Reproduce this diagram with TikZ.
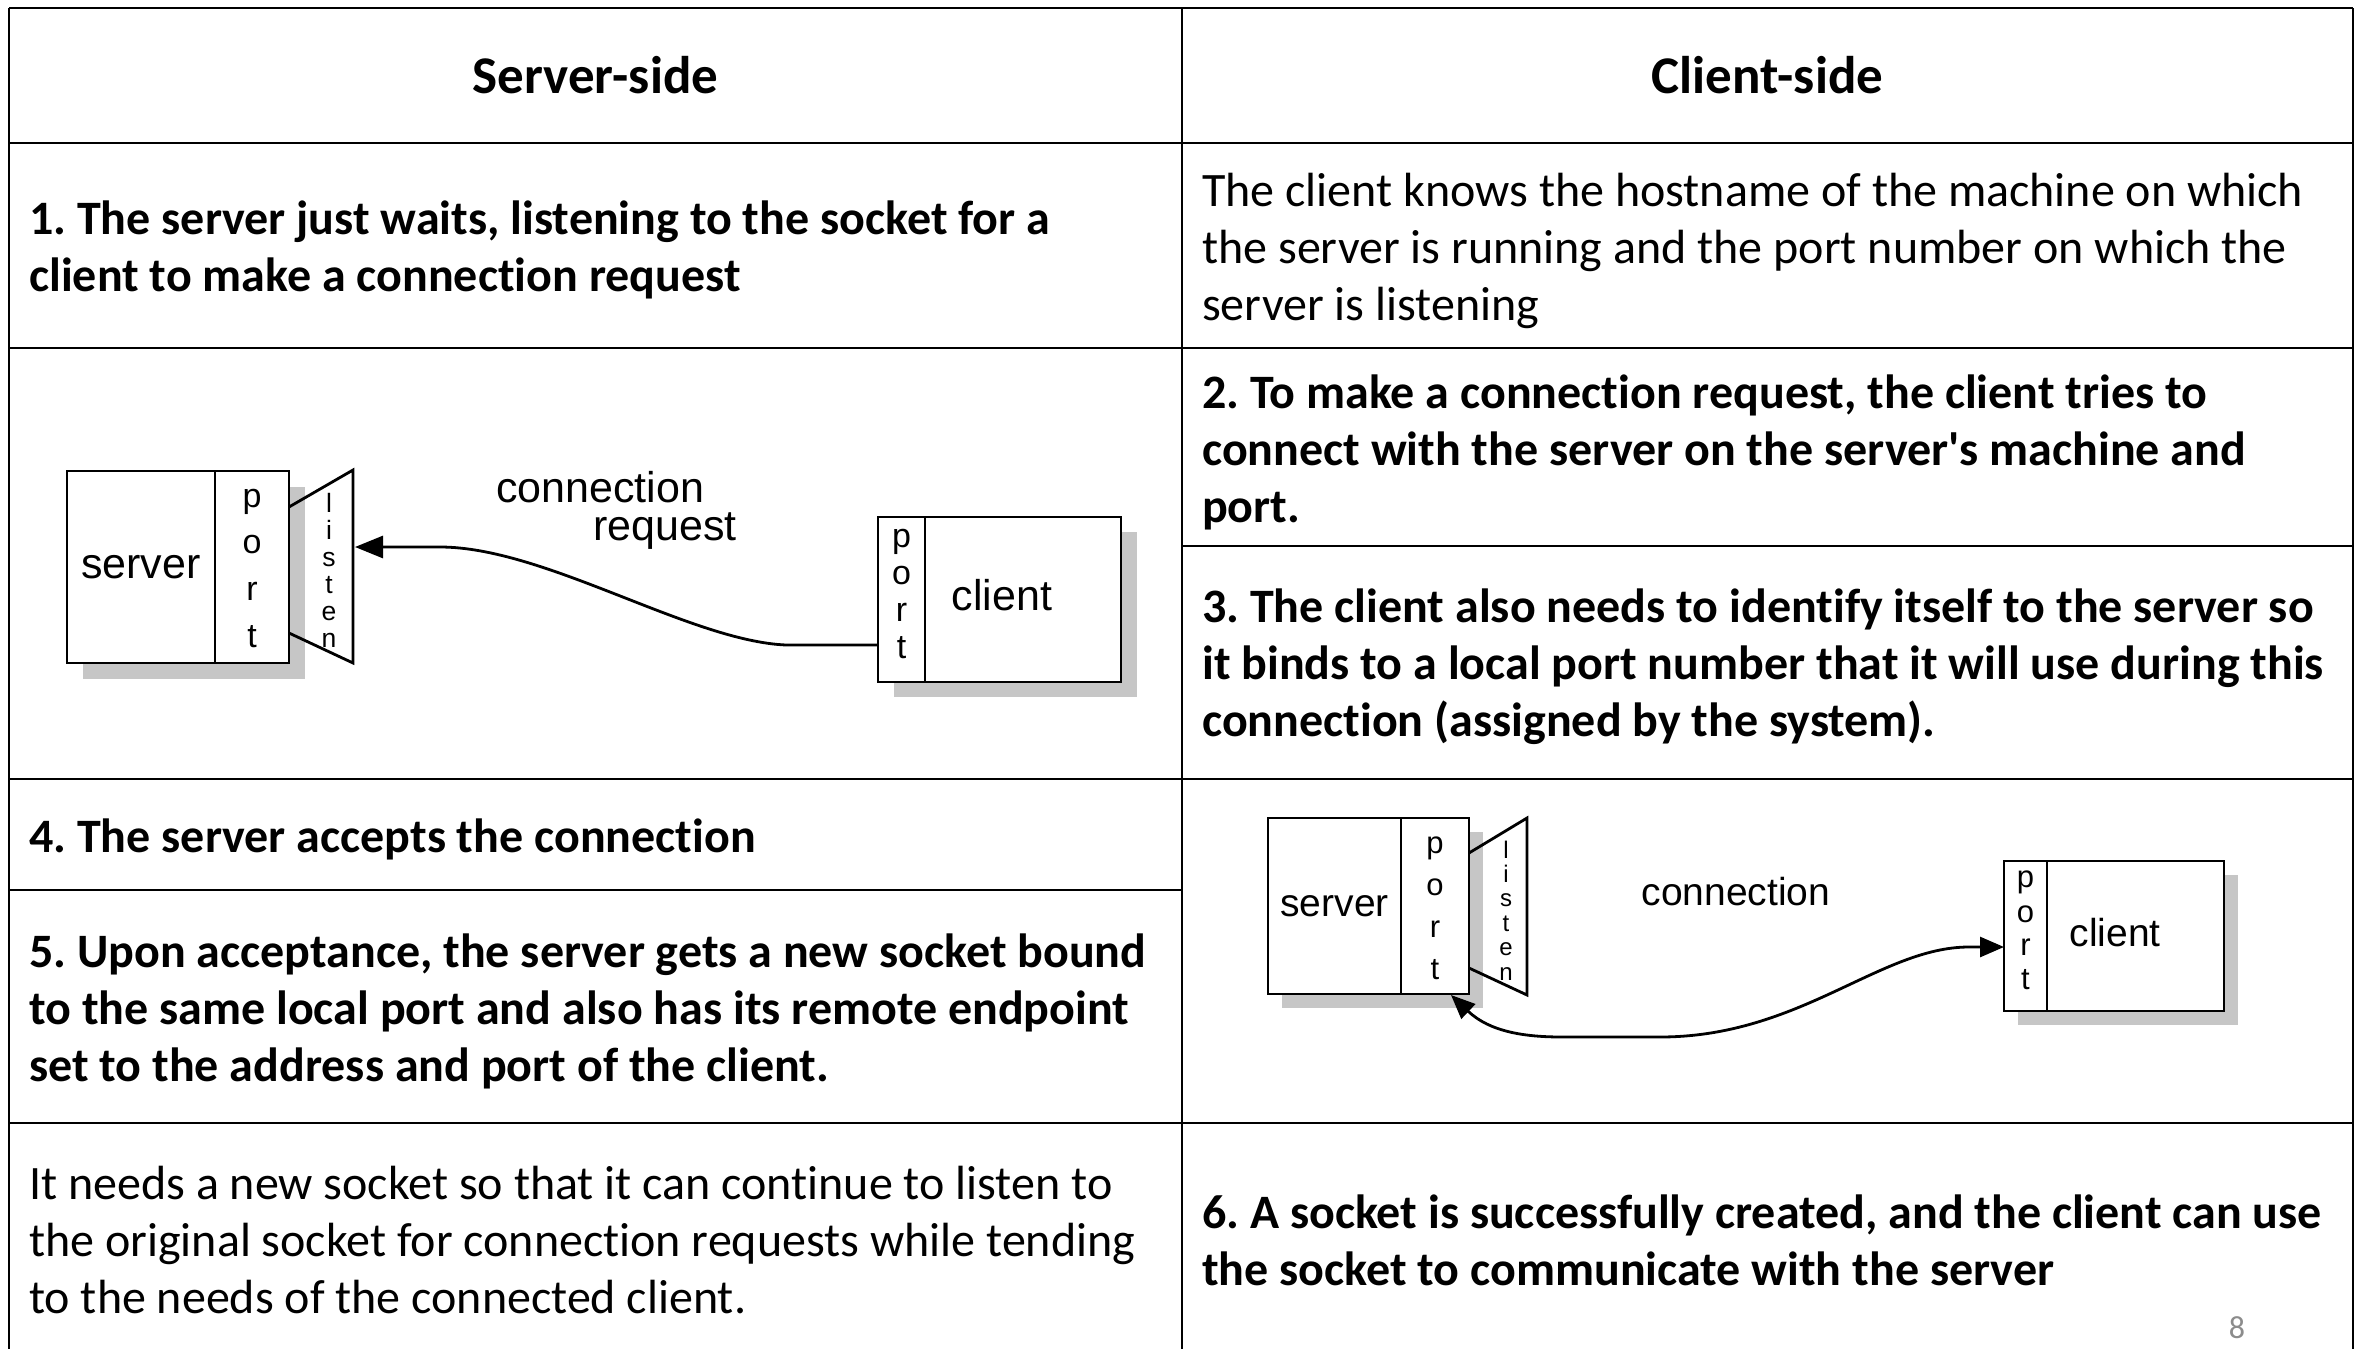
\documentclass[tikz,border=0pt]{standalone}
\usepackage{fontspec}
\setmainfont{Carlito}[Ligatures={NoCommon}]
\newfontfamily\diagfont{Liberation Sans}
\usetikzlibrary{arrows.meta}
\frenchspacing
\definecolor{shadowgray}{RGB}{198,198,198}
\definecolor{pagegray}{RGB}{140,140,140}
\tikzset{
  gridline/.style={line width=2.5pt, black},
  bodyb/.style={anchor=west, inner sep=0pt, align=left, font=\bfseries\fontsize{48}{57}\selectfont},
  bodyr/.style={anchor=west, inner sep=0pt, align=left, font=\fontsize{48}{57}\selectfont},
  headtxt/.style={inner sep=0pt, font=\bfseries\fontsize{53}{64}\selectfont},
  dline/.style={line width=2.8pt, black},
  dbox/.style={draw, line width=2.8pt, fill=white, inner sep=0pt, outer sep=0pt},
  dshadow/.style={fill=shadowgray, draw=none},
  dbigA/.style={font=\diagfont\fontsize{43}{50}\selectfont, inner sep=0pt, anchor=base},
  dsmallA/.style={font=\diagfont\fontsize{34}{34}\selectfont, inner sep=0pt, anchor=base},
  dletA/.style={font=\diagfont\fontsize{26.5}{26.5}\selectfont, inner sep=0pt, anchor=base},
  dbigB/.style={font=\diagfont\fontsize{39}{46}\selectfont, inner sep=0pt, anchor=base},
  dsmallB/.style={font=\diagfont\fontsize{31}{31}\selectfont, inner sep=0pt, anchor=base},
  dletB/.style={font=\diagfont\fontsize{24}{24}\selectfont, inner sep=0pt, anchor=base},
  conn/.style={line width=2.8pt, black},
  tipA/.tip={Triangle[width=22pt,length=28pt]},
  tipB/.tip={Triangle[width=20pt,length=24pt]},
}
\begin{document}
\begin{tikzpicture}[x=1pt,y=-1pt]
\useasboundingbox (0,0) rectangle (2364,1349);
\fill[white] (0,0) rectangle (2364,1349);

% ---------- table grid ----------
\draw[gridline] (9,8) -- (2353,8);
\draw[gridline] (9,8) -- (9,1349);
\draw[gridline] (1182,8) -- (1182,1349);
\draw[gridline] (2353,8) -- (2353,1349);
\draw[gridline] (9,143) -- (2353,143);
\draw[gridline] (9,348) -- (2353,348);
\draw[gridline] (9,779) -- (2353,779);
\draw[gridline] (9,1123) -- (2353,1123);
\draw[gridline] (9,890) -- (1182,890);
\draw[gridline] (1182,546) -- (2353,546);

% ---------- table texts ----------
\node[headtxt] (hs) at (595.5,75.5) {Server-side};
\node[headtxt] (hc) at (1767.5,75.5) {Client-side};

\node[bodyb] (t1) at (29,250) {1. The server just waits, listening to the socket for a\\client to make a connection request};
\node[bodyr] (t1r) at (1202,251) {The client knows the hostname of the machine on which\\the server is running and the port number on which the\\server is listening};
\node[bodyb] (t2) at (1202,452) {2. To make a connection request, the client tries to\\connect with the server on the server\textquotesingle s machine and\\port.};
\node[bodyb] (t3) at (1202,667) {3. The client also needs to identify itself to the server so\\it binds to a local port number that it will use during this\\connection (assigned by the system).};
\node[bodyb] (t4) at (29,839) {4. The server accepts the connection};
\node[bodyb] (t5) at (29,1011) {5. Upon acceptance, the server gets a new socket bound\\to the same local port and also has its remote endpoint\\set to the address and port of the client.};
\node[bodyr] (t5r) at (29,1240) {It needs a new socket so that it can continue to listen to\\the original socket for connection requests while tending\\to the needs of the connected client.};
\node[bodyb] (t6) at (1202,1240) {6. A socket is successfully created, and the client can use\\the socket to communicate with the server};

\node[inner sep=0pt, text=pagegray, font=\fontsize{32}{38}\selectfont] (pg) at (2237,1328) {8};

% ---------- diagram 1 ----------
\fill[dshadow] (83,487) rectangle (305,679);
\fill[dshadow] (894,532) rectangle (1137,697);
\node[dbox, minimum width=148pt, minimum height=192pt, font=\diagfont\fontsize{43}{50}\selectfont] (s1body) at (141,567) {server};
\node[dbox, minimum width=74pt, minimum height=192pt] (s1port) at (252,567) {};
\draw[dline] (289,507) -- (353,470) -- (353,663) -- (289,633);
\foreach \ch/\yy [count=\i] in {p/507,o/553,r/600,t/647}
  \node[dsmallA] (s1p\i) at (252,\yy) {\ch};
\foreach \ch/\yy [count=\i] in {l/512,i/539,s/566,t/593,e/620,n/647}
  \node[dletA] (s1l\i) at (329,\yy) {\ch};
\node[dbox, minimum width=47pt, minimum height=165pt] (c1port) at (901.5,599.5) {};
\node[dbox, minimum width=196pt, minimum height=165pt] (c1body) at (1023,599.5) {};
\foreach \ch/\yy [count=\i] in {p/547,o/584,r/621,t/658}
  \node[dsmallA] (c1p\i) at (901.5,\yy) {\ch};
\node[dbigA] (c1txt) at (1002,610) {client};
\node[dbigA] (cr1) at (600,502) {connection};
\node[dbigA] (cr2) at (665,540) {request};
\coordinate (a1s) at (878,645);
\coordinate (a1e) at (355,547);
\draw[conn, -tipA] (a1s) -- (786,645) .. controls (690,641) and (545,547) .. (440,547) -- (a1e);

% ---------- diagram 2 ----------
\fill[dshadow] (1282,832) rectangle (1483,1008);
\fill[dshadow] (2018,875) rectangle (2238,1025);
\node[dbox, minimum width=133pt, minimum height=176pt, font=\diagfont\fontsize{39}{46}\selectfont] (s2body) at (1334.5,906) {server};
\node[dbox, minimum width=68pt, minimum height=176pt] (s2port) at (1435,906) {};
\draw[dline] (1469,853) -- (1527,818) -- (1527,995) -- (1469,968);
\foreach \ch/\yy [count=\i] in {p/853,o/895,r/937,t/979}
  \node[dsmallB] (s2p\i) at (1435,\yy) {\ch};
\foreach \ch/\yy [count=\i] in {l/858,i/882.4,s/906.8,t/931.2,e/955.6,n/980}
  \node[dletB] (s2l\i) at (1506,\yy) {\ch};
\node[dbox, minimum width=43pt, minimum height=150pt] (c2port) at (2025.5,936) {};
\node[dbox, minimum width=177pt, minimum height=150pt] (c2body) at (2135.5,936) {};
\foreach \ch/\yy [count=\i] in {p/887,o/922,r/955,t/989}
  \node[dsmallB] (c2p\i) at (2025.5,\yy) {\ch};
\node[dbigB] (c2txt) at (2115,946) {client};
\node[dbigB] (cn2) at (1736,905) {connection};
\coordinate (a2s) at (1451,995);
\coordinate (a2e) at (2004,947);
\draw[conn, tipB-tipB] (a2s) .. controls (1490,1032) and (1525,1037) .. (1562,1037) -- (1660,1037) .. controls (1800,1037) and (1880,947) .. (1969,947) -- (a2e);
\end{tikzpicture}
\end{document}
